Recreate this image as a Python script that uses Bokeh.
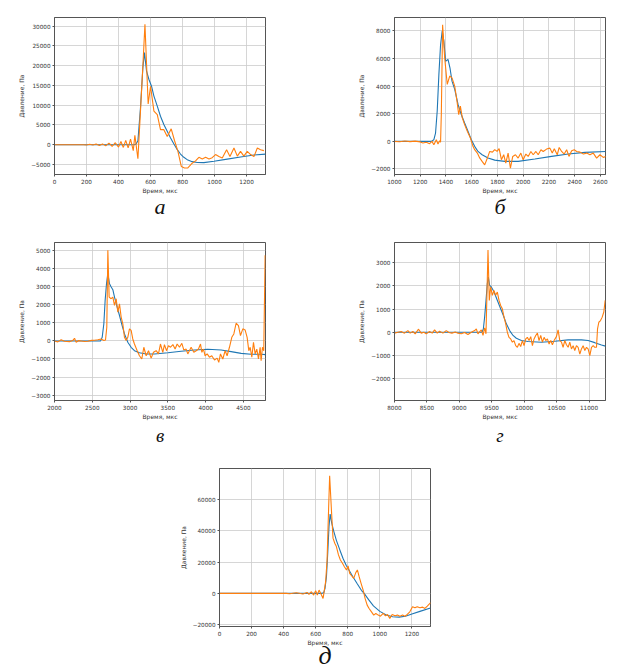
from bokeh.plotting import figure
from bokeh.layouts import column, row
from bokeh.models import FixedTicker, Range1d, Title
from bokeh.embed import file_html
from bokeh.resources import INLINE

# ---------------- data ----------------
# (а)
a_orange_x = [0, 60, 120, 180, 200, 220, 240, 260, 280, 300, 320, 340, 360, 380, 400, 415, 430, 445, 460, 475,
              492, 502, 521, 537, 552, 565, 585, 600, 621, 642, 662, 683, 704, 729, 750, 771, 792, 812, 833, 860,
              881, 902, 923, 944, 965, 985, 1006, 1027, 1048, 1075, 1096, 1121, 1142, 1162, 1183, 1204, 1225,
              1246, 1267, 1287, 1308]
a_orange_y = [0, 0, 0, 0, -100, 100, -100, 150, -200, 200, -300, 400, -400, 500, -600, 800, -700, 1100, -800, 1400,
              -1500, 2400, -3560, 8500, 20000, 30500, 10300, 14800, 8500, 7600, 3800, 3800, 2100, 4000, 1000, -1700,
              -5500, -5900, -5900, -4700, -4100, -3200, -3600, -3200, -3600, -3300, -2500, -3000, -3400, -1300,
              -3000, -850, -2900, -1700, -2900, -1700, -2500, -3000, -850, -1300, -1500]
a_blue_x = [0, 300, 500, 510, 521, 537, 552, 562, 575, 590, 606, 621, 642, 662, 683, 704, 725, 746, 767, 787,
            808, 833, 860, 892, 933, 996, 1079, 1162, 1246, 1318]
a_blue_y = [0, 0, 0, 200, 1000, 9300, 19500, 23300, 18600, 16500, 14800, 12300, 9750, 7200, 5100, 3400, 1700,
            170, -1270, -2370, -3200, -3900, -4300, -4500, -4550, -4200, -3650, -3100, -2600, -2400]
a_xticks = [0, 200, 400, 600, 800, 1000, 1200]
a_yticks = [-5000, 0, 5000, 10000, 15000, 20000, 25000, 30000]

# (б)
b_orange_x = [1000, 1040, 1080, 1120, 1160, 1200, 1221, 1247, 1273, 1291, 1306, 1325, 1338, 1351, 1358, 1364,
              1374, 1390, 1410, 1429, 1447, 1468, 1486, 1499, 1512, 1527, 1545, 1566, 1590, 1610, 1623, 1644,
              1662, 1681, 1701, 1722, 1740, 1761, 1779, 1797, 1813, 1831, 1849, 1865, 1883, 1901, 1919, 1940,
              1961, 1982, 2000, 2021, 2039, 2060, 2078, 2099, 2117, 2138, 2156, 2182, 2208, 2226, 2242, 2265,
              2280, 2299, 2319, 2338, 2356, 2377, 2397, 2416, 2442, 2468, 2494, 2519, 2545, 2571, 2597, 2623, 2644]
b_orange_y = [0, -30, 30, -20, 20, -40, -120, -70, -170, 0, -240, 120, -190, 50, -70, 2000,
              8440, 6060, 4120, 4730, 4600, 4000, 2900, 1940, 2550, 1700, 1210, 730, 240, -360, -600, -850,
              -1200, -1450, -1700, -1210, -730, -780, -600, -730, -530, -1330, -970, -1580, -850, -1940, -1090, -970,
              -1210, -850, -1330, -920, -1090, -730, -970, -730, -970, -610, -730, -560, -490, -850, -540, -970,
              -440, -730, -920, -610, -1090, -680, -610, -730, -780, -920, -850, -970, -850, -1210, -970, -1160, -1090]
b_blue_x = [1000, 1286, 1306, 1319, 1332, 1345, 1358, 1371, 1384, 1397, 1416, 1431, 1447, 1468, 1494, 1519,
            1545, 1571, 1597, 1623, 1649, 1681, 1727, 1779, 1857, 1961, 2091, 2221, 2351, 2481, 2640]
b_blue_y = [0, 0, 120, 600, 2200, 4850, 7000, 8000, 7270, 5800, 5940, 5330, 4360, 3760, 2670, 1940,
            1330, 730, 120, -360, -730, -970, -1210, -1360, -1450, -1450, -1280, -1090, -920, -800, -730]
b_xticks = [1000, 1200, 1400, 1600, 1800, 2000, 2200, 2400, 2600]
b_yticks = [-2000, 0, 2000, 4000, 6000, 8000]

# (в)
c_orange_x = [2000, 2044, 2088, 2130, 2198, 2240, 2265, 2287, 2320, 2353, 2400, 2441, 2490, 2529, 2573, 2617,
              2653, 2675, 2692, 2706, 2723, 2750, 2772, 2794, 2816, 2838, 2860, 2882, 2904, 2926, 2948, 2970,
              2992, 3014, 3036, 3058, 3094, 3124, 3155, 3182, 3213, 3244, 3279, 3310, 3345, 3376, 3402, 3433,
              3455, 3482, 3508, 3535, 3566, 3596, 3623, 3654, 3685, 3711, 3742, 3764, 3808, 3843, 3875, 3905,
              3932, 3950, 3971, 3993, 4020, 4050, 4081, 4117, 4152, 4174, 4196, 4227, 4258, 4284, 4315, 4346,
              4373, 4403, 4434, 4461, 4492, 4522, 4549, 4571, 4589, 4611, 4633, 4655, 4677, 4699, 4721, 4734,
              4752, 4769, 4787]
c_orange_y = [0, -50, 70, -20, -40, 20, 150, -70, 20, 0, -30, -20, 30, 40, 70, 110,
              20, 50, 760, 5030, 2430, 2340, 2430, 1970, 2340, 1600, 2060, 1320, 950, 200, 20, 200,
              670, 580, 110, -170, -540, -820, -1000, -350, -820, -540, -950, -630, -540, -720, -170, -630,
              -200, -540, -260, -350, -200, -450, -170, -350, -130, -500, -450, -720, -350, -630, -540, -450,
              -170, -630, -450, -820, -720, -900, -820, -1060, -950, -1190, -720, -1000, -540, -820, -350, 200,
              390, 980, 850, 300, 670, 610, 200, -540, -350, -900, -70, -720, -450, -1000, -350, -1100,
              -350, -540, 4750]
c_blue_x = [2000, 2609, 2631, 2653, 2670, 2688, 2706, 2728, 2750, 2772, 2794, 2829, 2860, 2895, 2926, 2970,
            3014, 3058, 3124, 3213, 3323, 3500, 3676, 3852, 4028, 4205, 4337, 4470, 4602, 4734, 4792]
c_blue_y = [0, 0, 200, 950, 2240, 3170, 3730, 3170, 2990, 2840, 2430, 1870, 1410, 850, 390, -70,
            -350, -540, -650, -720, -720, -650, -575, -500, -460, -500, -590, -690, -740, -740, -760]
c_xticks = [2000, 2500, 3000, 3500, 4000, 4500]
c_yticks = [-3000, -2000, -1000, 0, 1000, 2000, 3000, 4000, 5000]

# (г)
d_orange_x = [8000, 8051, 8103, 8154, 8206, 8242, 8283, 8319, 8371, 8412, 8453, 8489, 8541, 8582, 8618, 8659,
              8695, 8747, 8798, 8839, 8886, 8937, 8978, 9030, 9081, 9133, 9184, 9236, 9262, 9287, 9318, 9339,
              9365, 9390, 9411, 9442, 9462, 9483, 9509, 9534, 9560, 9586, 9612, 9637, 9663, 9689, 9715, 9740,
              9766, 9792, 9818, 9843, 9869, 9895, 9920, 9946, 9972, 9998, 10024, 10049, 10075, 10101, 10127,
              10152, 10178, 10204, 10229, 10255, 10281, 10307, 10332, 10358, 10384, 10410, 10435, 10461, 10497,
              10523, 10549, 10575, 10600, 10626, 10652, 10678, 10703, 10729, 10755, 10780, 10806, 10832, 10858,
              10883, 10909, 10935, 10961, 10986, 11012, 11038, 11064, 11089, 11115, 11131, 11151, 11177, 11203,
              11228, 11249]
d_orange_y = [-40, 0, 30, -40, 70, -40, 30, -70, 130, -40, 0, -70, 30, -40, 100, -40,
              40, -40, 70, -10, -40, 10, -40, -70, -10, -100, 0, 70, 140, -70, 40, 100,
              -140, 190, -70, 3540, 1370, 1950, 1590, 1800, 1590, 1730, 1370, 1150, 1010, 650, 360, 0,
              -220, -290, -430, -360, -580, -650, -480, -620, -360, -580, -290, -220, -360, -190, -580,
              -290, -140, -40, -360, -140, -430, -220, -360, -290, -510, -360, -540, -360, -190,
              100, -360, -430, -650, -360, -540, -650, -430, -720, -580, -790, -580, -650, -940,
              -720, -580, -790, -650, -720, -1010, -650, -580, -650, -650, 140, 430, 500, 650,
              870, 1370]
d_blue_x = [8000, 9349, 9370, 9390, 9411, 9431, 9447, 9467, 9493, 9524, 9555, 9596, 9637, 9679, 9725, 9776,
            9828, 9879, 9957, 10060, 10266, 10472, 10678, 10883, 10986, 11089, 11192, 11254]
d_blue_y = [0, 0, 140, 650, 1370, 2090, 2380, 2020, 1950, 1800, 1590, 1300, 1010, 720, 360, 70,
            -140, -260, -360, -400, -430, -390, -330, -330, -360, -450, -550, -600]
d_xticks = [8000, 8500, 9000, 9500, 10000, 10500, 11000]
d_yticks = [-2000, -1000, 0, 1000, 2000, 3000]

# (д)
e_orange_x = [0, 417, 437, 479, 521, 546, 558, 573, 587, 600, 610, 621, 633, 646, 654, 662, 671, 679, 687,
              698, 708, 719, 729, 742, 754, 767, 779, 792, 802, 812, 825, 837, 850, 860, 871, 883, 896, 908,
              921, 933, 948, 962, 975, 990, 1004, 1021, 1035, 1048, 1062, 1077, 1094, 1110, 1125, 1142, 1156,
              1171, 1187, 1204, 1219, 1233, 1250, 1267, 1281, 1296, 1308, 1317]
e_orange_y = [0, 0, -200, 400, -400, 600, -600, 1070, -1070, 1700, -1070, 2140, -400, -3200, 2140, 7500, 21400,
              49300, 75400, 53600, 35400, 32100, 30000, 24650, 21400, 19300, 17100, 15000, 17600, 12860, 11150,
              9650, 13300, 15000, 10700, 6430, 2140, -3200, -7500, -9650, -11800, -13900, -12860, -13900, -14600,
              -12860, -14350, -13500, -16000, -13500, -14350, -13900, -14600, -13900, -14600, -13500, -11800,
              -8570, -9200, -8570, -9200, -8780, -9650, -8140, -6860, -6000]
e_blue_x = [0, 635, 650, 658, 667, 675, 683, 690, 700, 712, 729, 750, 770, 790, 810, 830, 860, 885, 902,
            930, 960, 1000, 1040, 1080, 1120, 1160, 1200, 1250, 1316]
e_blue_y = [0, 0, 400, 3200, 10700, 25700, 42900, 50800, 45000, 40000, 34000, 28000, 22500, 18000, 14500,
            11000, 6000, 2000, 0, -4000, -8000, -11500, -13800, -15000, -15200, -14600, -13200, -11500, -9300]
e_xticks = [0, 200, 400, 600, 800, 1000, 1200]
e_yticks = [-20000, 0, 20000, 40000, 60000]

x_label = "Время, мкс"
y_label = "Давление, Па"
captions = ["а", "б", "в", "г", "д"]

BLUE = "#1f77b4"
ORANGE = "#ff7f0e"
FRAME_W = 211


def make(xr, yr, xticks, yticks, bx, by, ox, oy, w, h, left, top, frame_h, cap, cap_size, cap_standoff):
    right = w - left - FRAME_W
    bottom = h - top - frame_h
    p = figure(width=w, height=h, x_range=Range1d(*xr), y_range=Range1d(*yr),
               output_backend="svg", toolbar_location=None,
               min_border_left=left, min_border_right=right,
               min_border_top=top, min_border_bottom=bottom)
    p.line(bx, by, color=BLUE, line_width=1.1)
    p.line(ox, oy, color=ORANGE, line_width=1.1)
    p.outline_line_color = "#555555"
    p.outline_line_width = 1
    for ax, ticks in ((p.xaxis[0], xticks), (p.yaxis[0], yticks)):
        ax.ticker = FixedTicker(ticks=ticks)
        ax.major_label_overrides = {t: (("\u2212" + str(-t)) if t < 0 else str(t)) for t in ticks}
        ax.minor_tick_line_color = None
        ax.major_tick_in = 0
        ax.major_tick_out = 2
        ax.major_tick_line_color = "#555555"
        ax.axis_line_color = "#555555"
        ax.major_label_text_font = "DejaVu Sans"
        ax.major_label_text_font_size = "5.7px"
        ax.major_label_text_color = "#333333"
        ax.major_label_standoff = 2
        ax.axis_label_text_font = "DejaVu Sans"
        ax.axis_label_text_font_size = "6px"
        ax.axis_label_text_font_style = "normal"
        ax.axis_label_text_color = "#333333"
    p.xaxis.axis_label_standoff = 0
    p.yaxis.axis_label_standoff = 3
    p.xaxis.axis_label = x_label
    p.yaxis.axis_label = y_label
    p.grid.grid_line_color = "#cccccc"
    p.grid.grid_line_width = 0.8
    # caption below the frame
    p.add_layout(Title(text=cap, align="center", offset=-5, text_font="Liberation Serif",
                       text_font_style="italic", text_font_size=cap_size, text_color="#111111",
                       standoff=cap_standoff), "below")
    return p


pa = make((0, 1318), (-7550, 32200), a_xticks, a_yticks, a_blue_x, a_blue_y, a_orange_x, a_orange_y,
          323, 233, 54, 17, 157, captions[0], "22px", -10)
pb = make((1000, 2640), (-2400, 8970), b_xticks, b_yticks, b_blue_x, b_blue_y, b_orange_x, b_orange_y,
          307, 233, 71, 17, 157, captions[1], "22px", -10)
pc = make((2000, 4792), (-3300, 5455), c_xticks, c_yticks, c_blue_x, c_blue_y, c_orange_x, c_orange_y,
          323, 222, 54, 9, 158, captions[2], "19px", 0)
pd = make((8000, 11254), (-2944, 3867), d_xticks, d_yticks, d_blue_x, d_blue_y, d_orange_x, d_orange_y,
          307, 222, 71, 9, 158, captions[3], "19px", 0)
pe = make((0, 1316), (-21200, 80000), e_xticks, e_yticks, e_blue_x, e_blue_y, e_orange_x, e_orange_y,
          630, 213, 219, 13, 158, captions[4], "26px", -20)

layout = column(row(pa, pb), row(pc, pd), pe)
open("out.html", "w").write(file_html(layout, INLINE))
